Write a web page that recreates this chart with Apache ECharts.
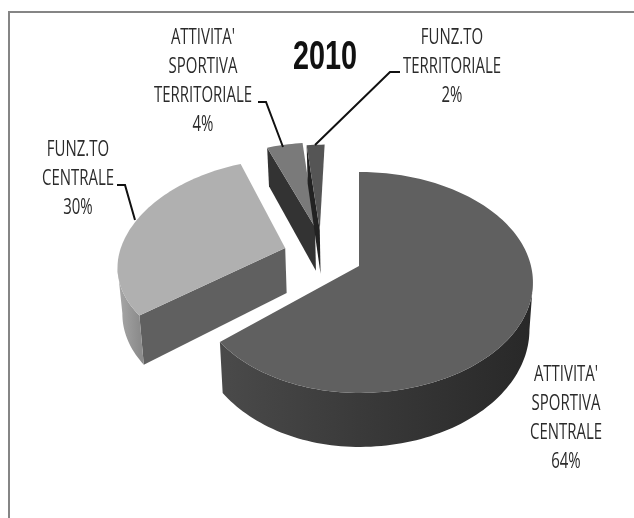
<!DOCTYPE html>
<html><head><meta charset="utf-8">
<style>html,body{margin:0;padding:0;background:#fff}#c{width:634px;height:518px}</style>
<script src="https://cdn.jsdelivr.net/npm/echarts@6/dist/echarts.min.js"></script>
</head><body><div id="c"></div>
<script>
const year = '2010';
const categories = ["ATTIVITA'\nSPORTIVA\nCENTRALE", "FUNZ.TO\nCENTRALE", "ATTIVITA'\nSPORTIVA\nTERRITORIALE", "FUNZ.TO\nTERRITORIALE"];
const shares = [64, 30, 4, 2];

// presentation only
const explode = [[0, 0], [-0.44, 0.17], [-0.27, 0.38], [-0.24, 0.35]];
const leftFactor = [0.95, 0.98, 1, 1];
const lowFactor = [1, 0.94, 1, 1];
const topColors = ['#606060', '#b0b0b0', '#7a7a7a', '#555555'];
const edgeColors = ['#444444', '#606060', '#333333', '#222222'];
const arcColors = [['#4a4a4a', '#383838', '#282828'], ['#a8a8a8', '#9a9a9a', '#8c8c8c'], ['#333333', '#333333', '#333333'], ['#222222', '#222222', '#222222']];
const labelAt = [[566, 418], [78, 179], [203, 81], [452, 67]];
const leaders = [null, [[117, 185], [125, 185], [135, 220]], [[258, 102], [266, 102], [283, 147]], [[400, 72], [390, 72], [315, 145]]];

const C = { cx: 359, cy: 266, rx: 172, ry: 108, k: 0.149, depth: 46, squeeze: 0.98 };
const total = shares.reduce((a, b) => a + b, 0);

function project(u, v) {
  const s = 1 / (1 + C.k * v);
  return [C.cx + C.rx * u * s, C.cy - C.ry * v * s, s];
}
function lower(p) {
  return [C.cx + (p[0] - C.cx) * C.squeeze, p[1] + C.depth * p[2]];
}
function band(seq) {
  return seq.map(p => [p[0], p[1]]).concat(seq.slice().reverse().map(lower));
}
function renderSlice(params, api) {
  const i = params.dataIndex;
  let before = 0;
  for (let j = 0; j < i; j++) before += shares[j];
  const a0 = before / total * 2 * Math.PI;
  const a1 = (before + api.value(0)) / total * 2 * Math.PI;
  const [ou, ov] = explode[i];
  const apex = project(ou, ov);
  const arc = [];
  const n = Math.max(2, Math.ceil((a1 - a0) / (Math.PI / 120)));
  for (let t = 0; t <= n; t++) {
    const a = a0 + (a1 - a0) * t / n;
    const su = Math.sin(a), cv = Math.cos(a);
    arc.push(project(ou + su * (su < 0 ? leftFactor[i] : 1), ov + cv * (cv < 0 ? lowFactor[i] : 1)));
  }
  const children = [];
  if (arc[0][0] < apex[0] - 0.5) {
    children.push({ type: 'polygon', shape: { points: band([apex, arc[0]]) }, style: { fill: edgeColors[i] } });
  }
  let run = [];
  const flush = () => {
    if (run.length > 1) {
      const xs = run.map(p => p[0]);
      const x0 = Math.min(...xs), x1 = Math.max(...xs);
      const cols = arcColors[i];
      children.push({
        type: 'polygon', shape: { points: band(run) },
        style: { fill: { type: 'linear', x: x0, y: 0, x2: x1, y2: 0, global: true,
          colorStops: [{ offset: 0, color: cols[0] }, { offset: 0.5, color: cols[1] }, { offset: 1, color: cols[2] }] } }
      });
    }
    run = [];
  };
  for (let t = 0; t < arc.length - 1; t++) {
    if (arc[t + 1][0] < arc[t][0]) {
      if (!run.length) run.push(arc[t]);
      run.push(arc[t + 1]);
    } else flush();
  }
  flush();
  children.push({
    type: 'polygon',
    shape: { points: [[apex[0], apex[1]]].concat(arc.map(p => [p[0], p[1]])) },
    style: { fill: topColors[i] }
  });
  if (leaders[i]) {
    children.push({ type: 'polyline', shape: { points: leaders[i] }, style: { stroke: '#111', lineWidth: 2, fill: null } });
  }
  children.push({
    type: 'text', x: labelAt[i][0], y: labelAt[i][1], scaleX: 0.68,
    style: {
      text: categories[i] + '\n' + api.value(0) + '%',
      x: 0, y: 0, align: 'center', verticalAlign: 'middle',
      font: '22px "Open Sans"', lineHeight: 29, fill: '#2b2b2b'
    }
  });
  return { type: 'group', children };
}

const chart = echarts.init(document.getElementById('c'), null, { renderer: 'canvas' });
chart.setOption({
  animation: false,
  backgroundColor: '#fff',
  graphic: [
    { type: 'rect', shape: { x: 8, y: 11, width: 626, height: 2 }, style: { fill: '#858585' } },
    { type: 'rect', shape: { x: 8, y: 11, width: 2, height: 507 }, style: { fill: '#858585' } },
    { type: 'text', x: 325, y: 58, scaleX: 0.72, style: { text: year, x: 0, y: 0, align: 'center', verticalAlign: 'middle', font: 'bold 40px "Liberation Sans"', fill: '#111' } }
  ],
  series: [{
    type: 'custom', coordinateSystem: 'none', silent: true,
    renderItem: renderSlice,
    data: shares.map(v => [v])
  }]
});
</script></body></html>
